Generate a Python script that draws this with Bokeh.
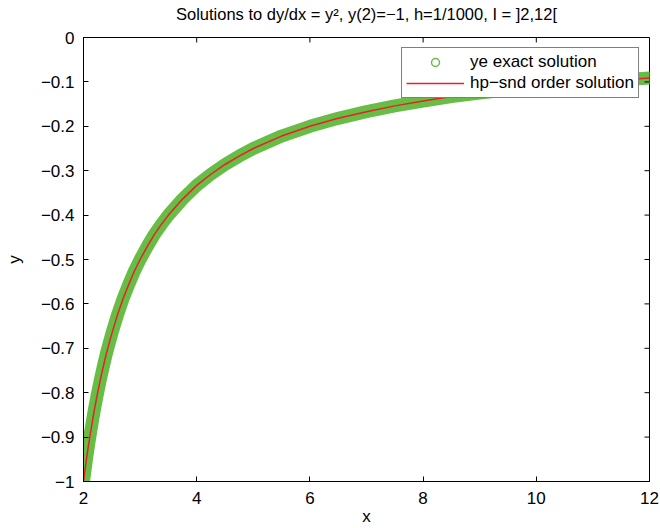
from bokeh.plotting import figure
from bokeh.models import Range1d, Legend, LegendItem, FixedTicker, ColumnDataSource
from bokeh.embed import file_html
from bokeh.resources import INLINE

# values
x_vals = [2.0, 2.025, 2.05, 2.075, 2.1, 2.125, 2.15, 2.175, 2.2, 2.25, 2.3, 2.35, 2.4, 2.45, 2.5, 2.6, 2.7, 2.8, 2.9,
          3.0, 3.125, 3.25, 3.375, 3.5, 3.75, 4.0, 4.25, 4.5, 4.75, 5.0, 5.5, 6.0, 6.5, 7.0, 7.5, 8.0, 8.5,
          9.0, 9.5, 10.0, 11.0, 12.0]
y_exact = [-1.0, -0.976, -0.952, -0.930, -0.909, -0.889, -0.870, -0.851, -0.833, -0.800, -0.769, -0.741,
           -0.714, -0.690, -0.667, -0.625, -0.588, -0.556, -0.526, -0.500, -0.471, -0.444, -0.421,
           -0.400, -0.364, -0.333, -0.308, -0.286, -0.267, -0.250, -0.222, -0.200, -0.182, -0.167,
           -0.154, -0.143, -0.133, -0.125, -0.118, -0.111, -0.100, -0.091]
y_hp = list(y_exact)

x_ticks = [2, 4, 6, 8, 10, 12]
y_ticks = [0, -0.1, -0.2, -0.3, -0.4, -0.5, -0.6, -0.7, -0.8, -0.9, -1]
y_tick_labels = ["0", "\u22120.1", "\u22120.2", "\u22120.3", "\u22120.4", "\u22120.5",
                 "\u22120.6", "\u22120.7", "\u22120.8", "\u22120.9", "\u22121"]
title_text = "Solutions to dy/dx = y\u00b2, y(2)=\u22121, h=1/1000, I = ]2,12["
legend_labels = ["ye exact solution", "hp\u2212snd order solution"]

FONT = "Liberation Sans"
GREEN = "#67BD45"
RED = "#E8202A"
FRAME_W = 566
FRAME_H = 445
TICK_PX = 5
SHIFT = 12

p = figure(width=660, height=528 + SHIFT, output_backend="svg", toolbar_location=None,
           x_range=Range1d(2, 12), y_range=Range1d(-1, 0),
           min_border_left=83, min_border_right=11, min_border_top=37 + SHIFT, min_border_bottom=46)
p.styles = {"margin-top": f"-{SHIFT}px"}
p.title.text = title_text
p.title.align = "center"
p.title.text_font = FONT
p.title.text_font_size = "16.5px"
p.title.text_font_style = "normal"
p.title.text_color = "black"
p.title.standoff = 29

p.xgrid.visible = False
p.ygrid.visible = False
p.outline_line_color = "black"
p.outline_line_width = 1
p.background_fill_color = "white"
p.border_fill_color = "white"

src = ColumnDataSource(dict(x=x_vals, ye=y_exact, hp=y_hp))

band = p.line("x", "ye", source=src, line_color=GREEN, line_width=13, line_cap="round", line_join="round")
circ = p.scatter("x", "ye", source=src, marker="circle", size=9, fill_color=None,
                 line_color=GREEN, line_width=1.5)
red = p.line("x", "hp", source=src, line_color=RED, line_width=1.5)

# box ticks on top and right (inward)
xr0, xr1 = 2, 12
yr0, yr1 = -1, 0
dy = (yr1 - yr0) * TICK_PX / FRAME_H
dx = (xr1 - xr0) * TICK_PX / FRAME_W
p.segment(x0=x_ticks, y0=[yr1] * len(x_ticks), x1=x_ticks, y1=[yr1 - dy] * len(x_ticks),
          line_color="black", line_width=1)
p.segment(x0=[xr1] * len(y_ticks), y0=y_ticks, x1=[xr1 - dx] * len(y_ticks), y1=y_ticks,
          line_color="black", line_width=1)

# axes styling
for ax in (p.xaxis[0], p.yaxis[0]):
    ax.major_tick_in = TICK_PX
    ax.major_tick_out = 0
    ax.minor_tick_in = 0
    ax.minor_tick_out = 0
    ax.axis_line_color = "black"
    ax.major_tick_line_color = "black"
    ax.major_label_text_font = FONT
    ax.major_label_text_font_size = "17px"
    ax.major_label_text_color = "black"
    ax.axis_label_text_font = FONT
    ax.axis_label_text_font_size = "17px"
    ax.axis_label_text_font_style = "normal"
    ax.axis_label_text_color = "black"

p.xaxis[0].ticker = FixedTicker(ticks=x_ticks)
p.yaxis[0].ticker = FixedTicker(ticks=y_ticks)
p.yaxis[0].major_label_overrides = {t: l for t, l in zip(y_ticks, y_tick_labels)}
p.xaxis[0].axis_label = "x"
p.yaxis[0].axis_label = "y"
p.xaxis[0].major_label_standoff = 10
p.yaxis[0].major_label_standoff = 9
p.xaxis[0].axis_label_standoff = 0
p.yaxis[0].axis_label_standoff = 14

legend = Legend(items=[LegendItem(label=legend_labels[0], renderers=[circ]),
                       LegendItem(label=legend_labels[1], renderers=[red])],
                location="top_right")
legend.margin = 10
legend.padding = 4
legend.spacing = 1
legend.label_height = 20
legend.glyph_height = 20
legend.glyph_width = 58
legend.label_standoff = 6
legend.label_text_font = FONT
legend.label_text_font_size = "17px"
legend.label_text_color = "black"
legend.border_line_color = "black"
legend.border_line_width = 1
legend.background_fill_color = "white"
legend.background_fill_alpha = 1
p.add_layout(legend)

open("out.html", "w").write(file_html(p, INLINE))
